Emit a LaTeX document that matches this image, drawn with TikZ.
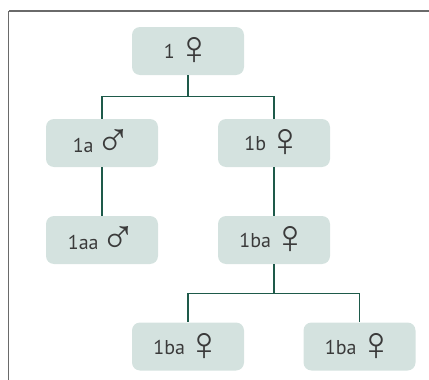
\documentclass[tikz,border=0pt]{standalone}
\usepackage{fontspec}
\setmainfont{PT Sans}
\newfontfamily\symfont{Liberation Sans}
\usetikzlibrary{calc}
\definecolor{boxfill}{HTML}{D4E2DF}
\definecolor{conncol}{HTML}{1E5A4A}
\definecolor{txtcol}{HTML}{3A3A3A}
\definecolor{framecol}{HTML}{6A6A6A}
\newcommand{\fem}{\hspace{1.5pt}\raisebox{-6pt}{\fontsize{48}{48}\symfont ♀}}
\newcommand{\mal}{\hspace{1.5pt}\raisebox{-4pt}{\fontsize{48}{48}\symfont ♂}}
\begin{document}
\begin{tikzpicture}[x=1pt,y=-1pt,
  famnode/.style={rectangle, rounded corners=8pt, fill=boxfill, draw=none,
    minimum width=112pt, minimum height=48pt, inner sep=0pt,
    text=txtcol, font=\fontsize{20}{22}\selectfont},
  conn/.style={draw=conncol, line width=1.1pt}]
\useasboundingbox (0,0) rectangle (429,380);
% frame
\draw[framecol, line width=1.6pt] (429,11) -- (8.5,11);
\draw[framecol, line width=1pt] (8.5,11) -- (8.5,380);
% nodes
\node[famnode] (r)   at (188,51)   {1\fem};
\node[famnode] (a)   at (102,143)  {1a\mal};
\node[famnode] (b)   at (274,143)  {1b\fem};
\node[famnode] (aa)  at (102,240)  {1aa\mal};
\node[famnode] (ba)  at (274,240)  {1ba\fem};
\node[famnode] (baa) at (188,346.5){1ba\fem};
\node[famnode] (bab) at (359.5,346.5){1ba\fem};
% connectors
\coordinate (j1) at ($(r.south)+(0,21)$);
\draw[conn] (r.south) -- (j1) -| (a.north);
\draw[conn] (j1) -| (b.north);
\draw[conn] (a.south) -- (aa.north);
\draw[conn] (b.south) -- (ba.north);
\coordinate (j2) at ($(ba.south)+(0,29)$);
\draw[conn] (ba.south) -- (j2) -| (baa.north);
\draw[conn] (j2) -| (bab.north);
\end{tikzpicture}
\end{document}
